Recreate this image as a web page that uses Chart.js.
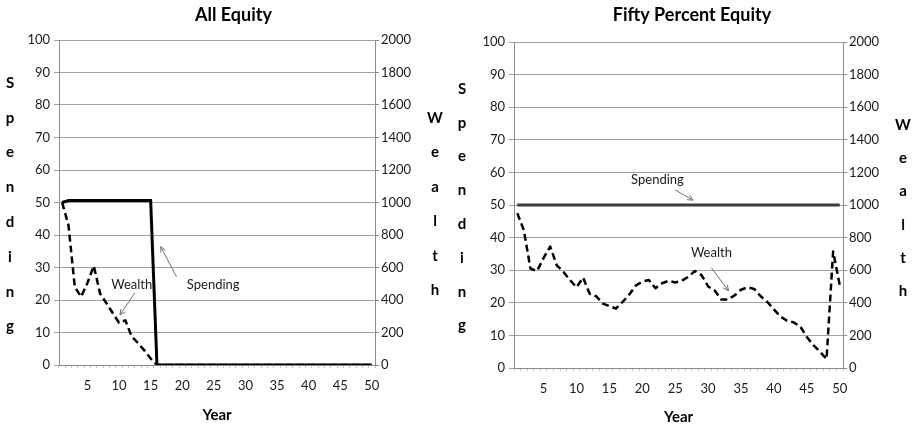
<!DOCTYPE html>
<html>
<head>
<meta charset="utf-8">
<title>All Equity / Fifty Percent Equity</title>
<script src="https://cdn.jsdelivr.net/npm/chart.js@4.4.0/dist/chart.umd.min.js"></script>
<style>
  html, body { margin: 0; padding: 0; background: #fff; }
  #wrap { position: relative; width: 915px; height: 427px; overflow: hidden; }
  canvas { position: absolute; top: 0; }
  #c1 { left: 0; }
  #c2 { left: 455px; }
</style>
</head>
<body>
<div id="wrap">
  <canvas id="c1" width="455" height="427"></canvas>
  <canvas id="c2" width="460" height="427"></canvas>
</div>
<script>
'use strict';

// years on the x axis
const years = [1, 2, 3, 4, 5, 6, 7, 8, 9, 10,
               11, 12, 13, 14, 15, 16, 17, 18, 19, 20,
               21, 22, 23, 24, 25, 26, 27, 28, 29, 30,
               31, 32, 33, 34, 35, 36, 37, 38, 39, 40,
               41, 42, 43, 44, 45, 46, 47, 48, 49, 50];

// All Equity (spending on left axis, wealth on right axis)
const allEquitySpending = [50, 50.6, 50.6, 50.6, 50.6, 50.6, 50.6, 50.6, 50.6, 50.6,
                           50.6, 50.6, 50.6, 50.6, 50.6, 0, 0, 0, 0, 0,
                           0, 0, 0, 0, 0, 0, 0, 0, 0, 0,
                           0, 0, 0, 0, 0, 0, 0, 0, 0, 0,
                           0, 0, 0, 0, 0, 0, 0, 0, 0, 0];
const allEquityWealth = [1000, 860, 480, 420, 505, 610, 440, 380, 320, 260,
                         275, 175, 135, 90, 40, 0, 0, 0, 0, 0,
                         0, 0, 0, 0, 0, 0, 0, 0, 0, 0,
                         0, 0, 0, 0, 0, 0, 0, 0, 0, 0,
                         0, 0, 0, 0, 0, 0, 0, 0, 0, 0];

// Fifty Percent Equity
const fiftySpending = [50, 50, 50, 50, 50, 50, 50, 50, 50, 50,
                       50, 50, 50, 50, 50, 50, 50, 50, 50, 50,
                       50, 50, 50, 50, 50, 50, 50, 50, 50, 50,
                       50, 50, 50, 50, 50, 50, 50, 50, 50, 50,
                       50, 50, 50, 50, 50, 50, 50, 50, 50, 50];
const fiftyWealth = [950, 845, 610, 595, 675, 745, 630, 590, 540, 495,
                     555, 455, 440, 395, 380, 365, 405, 450, 505, 530,
                     540, 490, 520, 535, 525, 535, 560, 595, 570, 500,
                     475, 420, 420, 445, 480, 495, 485, 440, 405, 360,
                     315, 290, 280, 255, 190, 140, 100, 55, 715, 510];

const FONT = 'Lato, "Open Sans", "DejaVu Sans", sans-serif';
Chart.defaults.font.family = FONT;
Chart.defaults.font.size = 13;
Chart.defaults.color = '#1a1a1a';

// upright stacked axis titles + text notes with arrows
const extrasPlugin = {
    id: 'extras',
    afterDraw(chart, args, opts) {
        const ctx = chart.ctx;
        const xs = chart.scales.x;
        const ys = chart.scales.y;
        ctx.save();
        ctx.textAlign = 'center';
        ctx.textBaseline = 'middle';
        ctx.fillStyle = '#000';
        ctx.font = 'bold 15px ' + FONT;
        opts.stacks.forEach(s => {
            s.text.split('').forEach((ch, i) => ctx.fillText(ch, s.x, s.y + i * s.dy));
        });
        ctx.font = '13px ' + FONT;
        opts.notes.forEach(n => {
            ctx.fillStyle = '#1a1a1a';
            ctx.fillText(n.text, xs.getPixelForValue(n.at[0]), ys.getPixelForValue(n.at[1]));
            let x1 = xs.getPixelForValue(n.from[0]), y1 = ys.getPixelForValue(n.from[1]);
            let x2 = xs.getPixelForValue(n.to[0]), y2 = ys.getPixelForValue(n.to[1]);
            let a = Math.atan2(y2 - y1, x2 - x1);
            ctx.strokeStyle = '#707070';
            ctx.lineWidth = 1;
            ctx.beginPath();
            ctx.moveTo(x1, y1);
            ctx.lineTo(x2, y2);
            ctx.moveTo(x2 - 6 * Math.cos(a - 0.45), y2 - 6 * Math.sin(a - 0.45));
            ctx.lineTo(x2, y2);
            ctx.lineTo(x2 - 6 * Math.cos(a + 0.45), y2 - 6 * Math.sin(a + 0.45));
            ctx.stroke();
        });
        ctx.restore();
    }
};

function makeChart(id, title, spending, wealth, spendColor, p) {
    return new Chart(document.getElementById(id), {
        type: 'line',
        data: {
            labels: years,
            datasets: [
                { label: 'Spending', data: spending, yAxisID: 'y', borderColor: spendColor,
                  borderWidth: 3, pointRadius: 0, tension: 0 },
                { label: 'Wealth', data: wealth, yAxisID: 'y1', borderColor: '#000',
                  borderWidth: 2.5, borderDash: [7, 4], borderJoinStyle: 'round',
                  pointRadius: 0, tension: 0 }
            ]
        },
        options: {
            responsive: false,
            animation: false,
            layout: { padding: { left: p.padLeft, right: 0, top: 0, bottom: 0 } },
            plugins: {
                legend: { display: false },
                tooltip: { enabled: false },
                title: { display: true, text: title, color: '#000',
                         font: { size: 18, weight: 'bold' },
                         padding: { top: 4, bottom: p.titleBottom } },
                extras: { stacks: p.stacks, notes: p.notes }
            },
            scales: {
                x: {
                    type: 'category',
                    offset: true,
                    grid: { offset: true, drawOnChartArea: false, tickLength: 3, color: '#c4c4c4' },
                    border: { color: '#8c8c8c' },
                    ticks: { autoSkip: false, maxRotation: 0, padding: 10,
                             callback: (v, i) => (i + 1) % 5 === 0 ? years[i] : '' },
                    title: { display: true, text: 'Year', color: '#000',
                             font: { size: 15, weight: 'bold' },
                             padding: { top: 0, bottom: p.yearBottom } },
                    afterFit: s => { s.height = p.xHeight; }
                },
                y: {
                    position: 'left', min: 0, max: 100,
                    ticks: { stepSize: 10, padding: 4 },
                    grid: { color: '#a0a0a0', tickLength: 5 },
                    border: { color: '#8c8c8c' },
                    afterFit: s => { s.width = p.leftW; }
                },
                y1: {
                    position: 'right', min: 0, max: 2000,
                    ticks: { stepSize: 200, padding: 2, callback: v => String(v) },
                    grid: { drawOnChartArea: false, tickLength: 4, color: '#8c8c8c' },
                    border: { color: '#8c8c8c' },
                    afterFit: s => { s.width = p.rightW; }
                }
            }
        },
        plugins: [extrasPlugin]
    });
}

makeChart('c1', 'All Equity', allEquitySpending, allEquityWealth, '#000', {
    padLeft: 12, leftW: 47, rightW: 80, titleBottom: 14.4, xHeight: 62, yearBottom: 2.6,
    stacks: [
        { text: 'Spending', x: 10, y: 83, dy: 34.8 },
        { text: 'Wealth', x: 435, y: 118, dy: 34.5 }
    ],
    notes: [
        { text: 'Wealth', at: [11.0, 24.6], from: [11.5, 22.2], to: [9.15, 15.4] },
        { text: 'Spending', at: [23.9, 24.6], from: [18.1, 27.1], to: [15.6, 36.4] }
    ]
});

makeChart('c2', 'Fifty Percent Equity', fiftySpending, fiftyWealth, '#3c3c3c', {
    padLeft: 14, leftW: 45, rightW: 72, titleBottom: 16.4, xHeight: 59, yearBottom: 0.6,
    stacks: [
        { text: 'Spending', x: 7, y: 89, dy: 33.8 },
        { text: 'Wealth', x: 448, y: 125, dy: 33.3 }
    ],
    notes: [
        { text: 'Spending', at: [21.3, 57.7], from: [24.0, 54.6], to: [26.7, 51.5] },
        { text: 'Wealth', at: [29.5, 35.3], from: [29.5, 30.7], to: [32.1, 23.7] }
    ]
});
</script>
</body>
</html>
